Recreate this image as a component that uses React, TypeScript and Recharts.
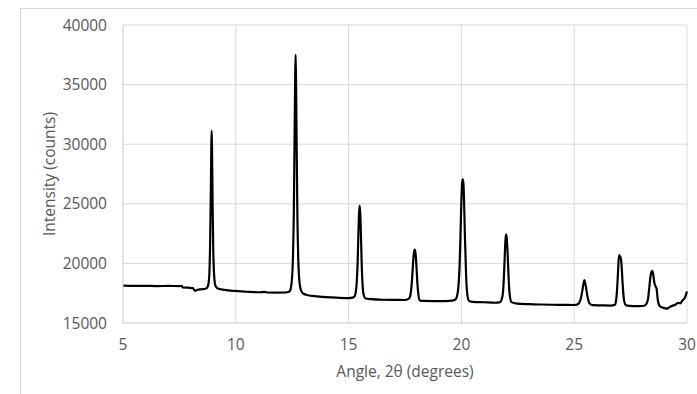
import React from 'react';
import { LineChart, Line, XAxis, YAxis, CartesianGrid } from 'recharts';

const angles = [
  5.0, 5.5, 6.0, 6.5, 7.0, 7.5, 7.6, 7.65, 7.9, 8.1, 8.16, 8.22, 8.3, 8.5, 8.65,
  8.72, 8.78, 8.83, 8.86, 8.89, 8.915, 8.93, 8.945, 8.97, 9.0, 9.04, 9.1, 9.2,
  9.5, 9.9, 10.5, 11.0, 11.3, 11.4, 11.8, 12.2, 12.35,
  12.4, 12.47, 12.53, 12.57, 12.6, 12.63, 12.65, 12.67, 12.7, 12.73, 12.77, 12.83, 12.9,
  13.0, 13.2, 13.6, 14.0, 14.5, 15.0, 15.18,
  15.25, 15.31, 15.36, 15.4, 15.43, 15.46, 15.49, 15.52, 15.55, 15.58, 15.62, 15.67, 15.75,
  16.0, 16.5, 17.0, 17.5, 17.63,
  17.7, 17.76, 17.81, 17.85, 17.89, 17.93, 17.97, 18.01, 18.05, 18.1, 18.16,
  18.3, 18.8, 19.3, 19.6, 19.74,
  19.8, 19.87, 19.92, 19.96, 20.0, 20.03, 20.06, 20.09, 20.12, 20.16, 20.21, 20.27, 20.34,
  20.5, 21.0, 21.5, 21.72,
  21.78, 21.84, 21.88, 21.92, 21.95, 21.98, 22.01, 22.05, 22.09, 22.14, 22.22,
  22.4, 23.0, 23.5, 24.0, 24.5, 25.0, 25.15,
  25.22, 25.3, 25.36, 25.41, 25.45, 25.49, 25.54, 25.6, 25.68, 25.8,
  26.2, 26.6, 26.8,
  26.85, 26.9, 26.94, 26.97, 27.0, 27.03, 27.06, 27.1, 27.15, 27.21, 27.3,
  27.6, 27.9, 28.1, 28.2,
  28.27, 28.33, 28.38, 28.43, 28.46, 28.5, 28.55, 28.6, 28.65, 28.7, 28.78,
  28.9, 29.0, 29.1, 29.2, 29.3, 29.4, 29.5, 29.6, 29.7, 29.8, 29.9, 30.0,
];

const counts = [
  18130, 18110, 18120, 18100, 18110, 18100, 18110, 17980, 17960, 17930, 17760, 17700, 17790, 17830, 17870,
  17950, 18200, 19200, 21500, 25500, 29800, 31150, 29800, 25300, 21200, 19000, 18100, 17900,
  17780, 17690, 17620, 17580, 17610, 17560, 17550, 17560, 17620,
  17700, 18300, 20300, 24000, 29500, 35300, 37500, 35300, 29500, 24000, 20300, 18300, 17700,
  17450, 17330, 17240, 17170, 17120, 17090, 17130,
  17200, 17500, 18400, 20000, 22200, 24100, 24850, 24100, 22200, 20000, 18200, 17350, 17060,
  17000, 16950, 16940, 16930, 17000,
  17100, 17600, 18600, 19800, 20800, 21150, 20800, 19700, 18300, 17300, 16900,
  16850, 16840, 16840, 16880, 16980,
  17200, 18100, 19800, 22400, 25300, 26700, 27050, 26700, 25100, 22000, 18900, 17300, 16850,
  16780, 16740, 16700, 16750,
  16950, 17500, 18700, 20500, 21900, 22440, 22100, 20800, 18900, 17400, 16750,
  16650, 16580, 16550, 16530, 16520, 16510, 16560,
  16700, 17100, 17700, 18300, 18600, 18350, 17800, 17100, 16650, 16500,
  16480, 16460, 16520,
  16800, 17800, 19200, 20300, 20700, 20500, 20550, 19800, 18200, 16900, 16480,
  16420, 16420, 16450, 16600,
  17000, 18000, 18900, 19300, 19380, 19100, 18400, 18100, 17900, 17000, 16450,
  16300, 16250, 16200, 16300, 16400, 16480, 16550, 16700, 16650, 16900, 17100, 17650,
];

const xTicks = [5, 10, 15, 20, 25, 30];
const yTicks = [15000, 20000, 25000, 30000, 35000, 40000];

const data = angles.map((a, i) => ({ angle: a, counts: counts[i] }));

const FONT = '"Open Sans", sans-serif';
const TEXT = '#595959';
const GRID = '#d9d9d9';

export default function App() {
  return (
    <div style={{ position: 'absolute', left: 0, top: 0, width: 697, height: 394, overflow: 'hidden', background: '#fff' }}>
      <div style={{ position: 'absolute', left: 20, top: 8, width: 700, height: 420, border: `1px solid ${GRID}`, boxSizing: 'border-box' }} />
      <div style={{ position: 'absolute', left: 0, top: 0 }}>
        <LineChart width={697} height={394} data={data} margin={{ top: 25, right: 10, left: 0, bottom: 11 }}>
          <CartesianGrid stroke={GRID} strokeWidth={1} />
          <XAxis
            dataKey="angle"
            type="number"
            domain={[5, 30]}
            ticks={xTicks}
            height={60}
            tickLine={false}
            axisLine={{ stroke: GRID }}
            tickMargin={10}
            tick={{ fill: TEXT, fontSize: 15.5, fontFamily: FONT }}
            label={{ value: 'Angle, 2θ (degrees)', position: 'insideBottom', offset: 6, fill: TEXT, fontSize: 15.5, fontFamily: FONT }}
          />
          <YAxis
            type="number"
            domain={[15000, 40000]}
            ticks={yTicks}
            width={123}
            tickLine={false}
            axisLine={{ stroke: GRID }}
            tickMargin={10}
            tick={{ fill: TEXT, fontSize: 15.5, fontFamily: FONT }}
            label={{ value: 'Intensity (counts)', angle: -90, position: 'insideLeft', offset: 49, fill: TEXT, fontSize: 15.5, fontFamily: FONT, style: { textAnchor: 'middle' } }}
          />
          <Line type="monotone" dataKey="counts" stroke="#000" strokeWidth={2.2} dot={false} isAnimationActive={false} />
        </LineChart>
      </div>
    </div>
  );
}
